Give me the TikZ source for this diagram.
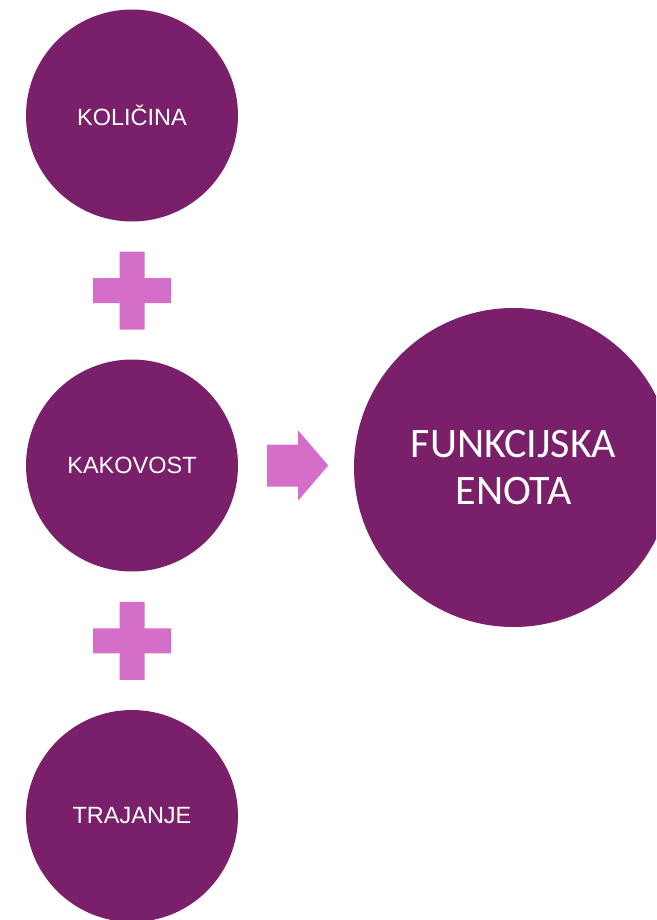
\documentclass[tikz,border=0pt]{standalone}
\usepackage{fontspec}
\setmainfont{Liberation Sans}
\newfontfamily\bigfont{Carlito}
\usetikzlibrary{calc,positioning}
\definecolor{plum}{HTML}{7A206B}
\definecolor{orchid}{HTML}{D46EC8}

\begin{document}
\begin{tikzpicture}[x=1pt,y=-1pt,
            part node/.style={circle, fill=plum, text=white, inner sep=0pt,
                minimum size=212pt, font=\fontsize{23.5}{28}\selectfont},
            unit node/.style={circle, fill=plum, text=white, inner sep=0pt,
                minimum size=319pt, align=center,
                font=\bigfont\fontsize{42}{47}\selectfont},
            plus sign/.pic={
                \fill[orchid] (-12.5,-39) -- (12.5,-39) -- (12.5,-12.5) -- (39,-12.5)
                    -- (39,12.5) -- (12.5,12.5) -- (12.5,39) -- (-12.5,39)
                    -- (-12.5,12.5) -- (-39,12.5) -- (-39,-12.5) -- (-12.5,-12.5) -- cycle;
            },
            block arrow/.pic={
                \fill[orchid] (0,-21) -- (31,-21) -- (31,-35) -- (61,0)
                    -- (31,35) -- (31,21) -- (0,21) -- cycle;
            }]
            \clip (0,0) rectangle (656,920);

            \node[part node] (kolicina) at (132,115.5) {KOLIČINA};
            \node[part node] (kakovost) at (132,465.5) {KAKOVOST};
            \node[part node] (trajanje) at (132,816) {TRAJANJE};
            \node[unit node] (enota) at (513.5,467.5) {FUNKCIJSKA\\ENOTA};

            % plus signs between the parts
            \pic at ($(kolicina)!0.5!(kakovost)$) {plus sign};
            \pic at ($(kakovost)!0.5!(trajanje)$) {plus sign};

            % arrow to the result
            \pic at ($(kakovost.east)+(29,0)$) {block arrow};
\end{tikzpicture}
\end{document}
